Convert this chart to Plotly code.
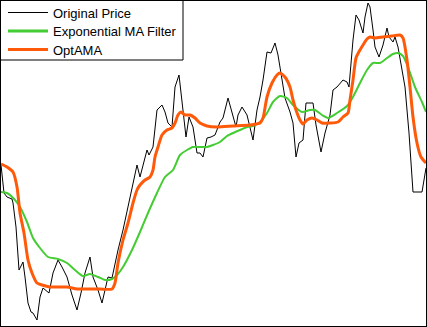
import plotly.graph_objects as go

# Bar positions (time axis) and series levels
t_price = [1, 4, 7, 12, 13, 16, 19, 21, 23, 25, 28, 31, 33, 37, 40, 43, 49, 53, 58, 62, 67, 72,
           77, 81, 85, 90, 93, 98, 102, 105, 108, 112, 115, 118, 123, 128, 133, 137, 140, 144,
           147, 149, 153, 157, 162, 165, 168, 172, 175, 179, 182, 186, 189, 193, 197, 200, 203,
           207, 211, 215, 220, 223, 228, 232, 236, 238, 242, 247, 250, 253, 257, 260, 263, 267,
           271, 275, 278, 282, 285, 290, 293, 296, 299, 303, 306, 310, 313, 316, 321, 325, 330,
           333, 337, 343, 347, 349, 353, 356, 359, 363, 365, 368, 370, 373, 375, 379, 383, 387,
           389, 393, 395, 398, 405, 409, 413, 422, 424, 426]
price = [165, 193, 197, 199, 203, 227, 270, 265, 262, 277, 303, 312, 313, 320, 297, 288, 293,
         273, 260, 267, 277, 295, 310, 293, 273, 257, 277, 290, 303, 290, 277, 278, 263, 250,
         230, 207, 183, 165, 177, 163, 150, 155, 147, 110, 105, 112, 123, 127, 87, 75, 103, 137,
         117, 127, 153, 153, 157, 138, 137, 135, 122, 118, 98, 113, 127, 115, 107, 115, 128,
         140, 110, 97, 80, 52, 53, 43, 55, 80, 98, 112, 123, 157, 143, 140, 103, 103, 103, 125,
         152, 133, 115, 90, 87, 80, 82, 87, 40, 15, 20, 33, 17, 3, 7, 30, 47, 57, 45, 28, 37, 42,
         37, 47, 87, 133, 192, 192, 180, 168]

t_ema = [1, 7, 15, 20, 27, 33, 40, 48, 58, 67, 75, 83, 90, 98, 105, 112, 117, 123, 132, 140,
         148, 157, 165, 173, 180, 187, 193, 200, 207, 213, 220, 227, 233, 240, 247, 253, 260,
         267, 273, 280, 287, 293, 302, 310, 315, 322, 328, 337, 347, 353, 360, 367, 373, 380,
         387, 393, 398, 403, 408, 415, 422, 426]
ema = [192, 193, 200, 207, 222, 238, 248, 257, 259, 263, 270, 276, 274, 277, 280, 279, 275,
       267, 250, 232, 213, 193, 177, 170, 155, 150, 147, 147, 147, 145, 142, 136, 133, 130,
       127, 126, 122, 113, 102, 96, 98, 105, 112, 110, 110, 115, 118, 113, 106, 97, 83, 70, 63,
       63, 58, 54, 53, 56, 67, 87, 102, 112]

t_opt = [1, 7, 13, 17, 20, 24, 28, 32, 37, 42, 50, 67, 77, 90, 100, 112, 115, 118, 123, 128,
         133, 137, 140, 145, 150, 153, 155, 158, 162, 167, 172, 175, 178, 181, 185, 190, 195,
         200, 207, 217, 233, 250, 260, 263, 267, 272, 277, 280, 285, 290, 293, 296, 300, 303,
         307, 312, 317, 322, 330, 338, 343, 348, 350, 353, 356, 360, 363, 367, 370, 375, 383,
         392, 400, 403, 407, 410, 413, 417, 421, 426]
optama = [164, 167, 172, 187, 213, 233, 260, 273, 283, 285, 287, 287, 289, 289, 289, 289, 283,
          263, 240, 223, 203, 190, 185, 180, 177, 170, 157, 147, 135, 130, 128, 123, 115, 112,
          115, 115, 118, 123, 126, 127, 126, 125, 123, 118, 97, 83, 75, 73, 77, 87, 100, 110,
          120, 124, 120, 118, 120, 123, 123, 122, 117, 113, 100, 80, 58, 50, 45, 39, 37, 38, 37,
          36, 35, 38, 60, 87, 117, 143, 157, 163]

series_names = ["Original Price", "Exponential MA Filter", "OptAMA"]
series_colors = ["#000000", "#44cc33", "#ff5a0a"]
series_widths = [1, 2, 3]

W, H = 427, 327


def level(v):
    return [H - y for y in v]


fig = go.Figure()
fig.add_trace(go.Scatter(x=t_price, y=level(price), mode="lines", name=series_names[0],
                         line=dict(color=series_colors[0], width=series_widths[0])))
fig.add_trace(go.Scatter(x=t_ema, y=level(ema), mode="lines", name=series_names[1],
                         line=dict(color=series_colors[1], width=series_widths[1],
                                   shape="spline", smoothing=0.6)))
fig.add_trace(go.Scatter(x=t_opt, y=level(optama), mode="lines", name=series_names[2],
                         line=dict(color=series_colors[2], width=series_widths[2],
                                   shape="spline", smoothing=0.6)))


def px(x):
    return x / W


def py(y):
    return 1 - y / H


# Legend box drawn in pixel terms on the paper
shapes = [
    dict(type="rect", xref="paper", yref="paper", x0=0, y0=py(60), x1=px(183), y1=1,
         fillcolor="white", line=dict(color="black", width=1), layer="above"),
]
annotations = []
row_y = [12.5, 31, 49.5]
for name, col, wd, yy in zip(series_names, series_colors, series_widths, row_y):
    shapes.append(dict(type="line", xref="paper", yref="paper", x0=px(8), x1=px(48),
                       y0=py(yy), y1=py(yy), line=dict(color=col, width=min(wd + 1, 3) if wd > 1 else 1),
                       layer="above"))
    annotations.append(dict(text=name, xref="paper", yref="paper", x=px(51), y=py(yy + 0.5),
                            xanchor="left", yanchor="middle", showarrow=False,
                            font=dict(size=13, color="black")))

# Outer frame
shapes.append(dict(type="rect", xref="paper", yref="paper", x0=0, y0=0, x1=1, y1=1,
                   line=dict(color="black", width=2), layer="above"))

fig.update_layout(
    width=W, height=H,
    margin=dict(l=0, r=0, t=0, b=0),
    paper_bgcolor="white", plot_bgcolor="white",
    font=dict(family="Liberation Sans, Arial, sans-serif", size=13, color="black"),
    xaxis=dict(range=[0, W], visible=False, fixedrange=True),
    yaxis=dict(range=[0, H], visible=False, fixedrange=True),
    showlegend=False,
    shapes=shapes,
    annotations=annotations,
)

fig.write_html("out.html")
